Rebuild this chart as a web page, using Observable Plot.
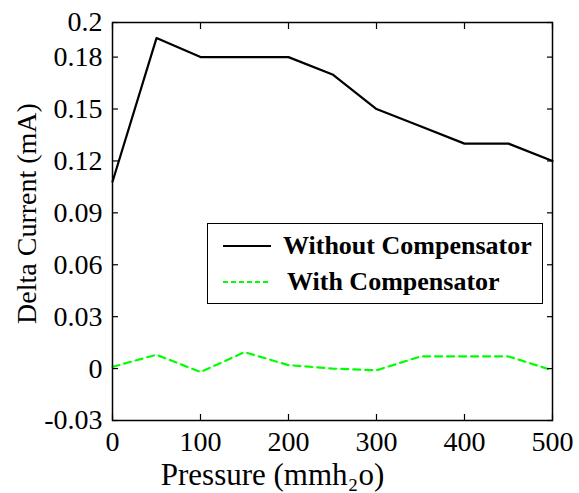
<!DOCTYPE html>
<html>
<head>
<meta charset="utf-8">
<script src="https://cdn.jsdelivr.net/npm/d3@7"></script>
<script src="https://cdn.jsdelivr.net/npm/@observablehq/plot@0.6"></script>
<style>
  body { margin: 0; background: #fff; }
  #wrap { position: relative; width: 579px; height: 493px; }
  #wrap svg text { font-family: "Liberation Serif", "Times New Roman", serif; fill: #000; }
  #legend {
    position: absolute; left: 207px; top: 223px; width: 334px; height: 79px;
    border: 1.5px solid #000; background: #fff;
    font-family: "Liberation Serif", "Times New Roman", serif; font-weight: bold; font-size: 26px;
  }
  .row { position: absolute; left: 0; display: flex; align-items: center; height: 30px; }
  .row svg { margin-left: 15px; margin-right: 12px; }
</style>
</head>
<body>
<div id="wrap"></div>
<script>
const pressure = [0, 50, 100, 150, 200, 250, 300, 350, 400, 450, 500];
const withoutComp = [0.108, 0.191, 0.180, 0.180, 0.180, 0.170, 0.150, 0.140, 0.130, 0.130, 0.120];
const withComp = [0.001, 0.008, -0.002, 0.0095, 0.002, 0.000, -0.001, 0.007, 0.007, 0.007, -0.001];
const xTicks = [0, 100, 200, 300, 400, 500];
const yTicks = [-0.03, 0, 0.03, 0.06, 0.09, 0.12, 0.15, 0.18, 0.2];
const seriesNames = ["Without Compensator", "With Compensator"];
const xTitle = "Pressure (mmh\u2082o)";
const yTitle = "Delta Current (mA)";

const dataA = pressure.map((p, i) => ({p, v: withoutComp[i]}));
const dataB = pressure.map((p, i) => ({p, v: withComp[i]}));
const fmt = d => String(+d.toFixed(2));

const chart = Plot.plot({
  width: 579, height: 493,
  marginLeft: 112, marginRight: 27, marginTop: 22, marginBottom: 73,
  x: {domain: [0, 500], axis: null},
  y: {domain: [-0.03, 0.2], axis: null},
  marks: [
    Plot.line(dataB, {x: "p", y: "v", stroke: "#00ff00", strokeWidth: 2.2, strokeDasharray: "7,5"}),
    Plot.line(dataA, {x: "p", y: "v", stroke: "#000", strokeWidth: 2.2}),
    // inward ticks on all four sides
    Plot.axisX({ticks: xTicks, anchor: "bottom", tickSize: 6, dy: -6, text: null, label: null, strokeWidth: 1.2}),
    Plot.axisX({ticks: xTicks, anchor: "top", tickSize: 6, dy: 6, text: null, label: null, strokeWidth: 1.2}),
    Plot.axisY({ticks: yTicks, anchor: "left", tickSize: 6, dx: 6, text: null, label: null, strokeWidth: 1.2}),
    Plot.axisY({ticks: yTicks, anchor: "right", tickSize: 6, dx: -6, text: null, label: null, strokeWidth: 1.2}),
    // tick labels placed through the scales
    Plot.text(xTicks, {x: d => d, frameAnchor: "bottom", text: d => String(d), fontSize: 28,
      textAnchor: "middle", lineAnchor: "top", dy: 11}),
    Plot.text(yTicks, {y: d => d, frameAnchor: "left", text: fmt, fontSize: 28,
      textAnchor: "end", lineAnchor: "middle", dx: -10}),
    // axis titles
    Plot.text([xTitle], {frameAnchor: "bottom", text: d => d, dx: -60, dy: 55, fontSize: 31,
      textAnchor: "middle", lineAnchor: "middle"}),
    Plot.text([yTitle], {frameAnchor: "left", text: d => d, rotate: -90, dx: -85, dy: -8, fontSize: 28,
      textAnchor: "middle", lineAnchor: "middle"}),
    Plot.frame({stroke: "#000", strokeWidth: 1.5})
  ]
});
const wrap = document.getElementById("wrap");
wrap.appendChild(chart);

// legend inside the axes
const legend = document.createElement("div");
legend.id = "legend";
const styles = [
  {stroke: "#000", dash: null, top: 7, gap: 12},
  {stroke: "#00ff00", dash: "5,3", top: 43, gap: 16}
];
seriesNames.forEach((name, i) => {
  const s = styles[i];
  const row = document.createElement("div");
  row.className = "row";
  row.style.top = s.top + "px";
  row.innerHTML = `<svg width="48" height="6"><line x1="0" y1="3" x2="48" y2="3" stroke="${s.stroke}" stroke-width="2" ${s.dash ? `stroke-dasharray="${s.dash}"` : ""}/></svg><span style="margin-left:${s.gap - 12}px">${name}</span>`;
  legend.appendChild(row);
});
wrap.appendChild(legend);
</script>
</body>
</html>
